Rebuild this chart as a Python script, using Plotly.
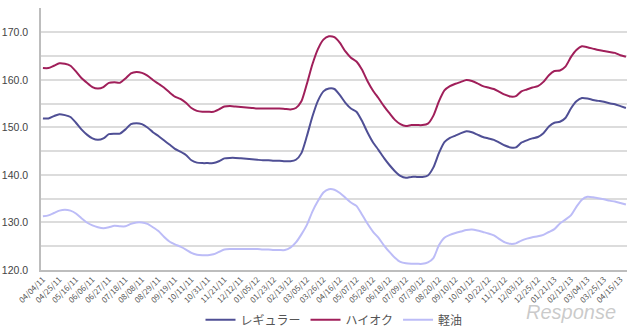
import plotly.graph_objects as go

# Weekly retail fuel prices (yen / litre), one point per survey week
regular = [
    151.9, 151.9, 152.4, 152.8, 152.6, 152.2, 151.0, 149.6, 148.5, 147.7,
    147.4, 147.7, 148.6, 148.7, 148.7, 149.6, 150.7, 150.9, 150.7, 150.0,
    149.0, 148.2, 147.3, 146.4, 145.5, 144.9, 144.2, 143.1, 142.6, 142.5,
    142.5, 142.5, 142.9, 143.5, 143.6, 143.6, 143.5, 143.4, 143.3, 143.2,
    143.1, 143.1, 143.0, 143.0, 142.9, 142.9, 143.2, 144.6, 148.2, 152.3,
    155.6, 157.6, 158.2, 158.1, 156.8, 155.2, 154.0, 153.3, 151.4, 149.0,
    146.9, 145.3, 143.6, 142.1, 140.8, 139.8, 139.4, 139.6, 139.6, 139.6,
    139.9, 141.6, 144.6, 146.9, 147.8, 148.3, 148.8, 149.2, 149.0, 148.5,
    148.0, 147.7, 147.4, 146.8, 146.2, 145.8, 145.8, 146.8, 147.3, 147.7,
    148.0, 148.8, 150.2, 151.0, 151.2, 152.0, 154.0, 155.5, 156.2, 156.1,
    155.8, 155.6, 155.4, 155.1, 154.9, 154.5, 154.1,
]
high_octane = [
    162.5, 162.5, 163.0, 163.5, 163.4, 163.0, 161.8, 160.4, 159.4, 158.5,
    158.2, 158.5, 159.4, 159.5, 159.4, 160.3, 161.4, 161.7, 161.5, 160.9,
    160.0, 159.2, 158.4, 157.4, 156.5, 156.0, 155.2, 154.1, 153.5, 153.3,
    153.3, 153.3, 153.8, 154.4, 154.5, 154.4, 154.3, 154.2, 154.1, 154.0,
    154.0, 154.0, 154.0, 154.0, 153.9, 153.8, 154.1, 155.5, 159.2, 163.3,
    166.5, 168.5, 169.2, 169.0, 167.8, 166.0, 164.7, 163.9, 162.2, 159.8,
    157.8, 156.2, 154.5, 153.0, 151.6, 150.7, 150.3, 150.5, 150.5, 150.5,
    150.8, 152.5, 155.5, 157.8, 158.7, 159.2, 159.6, 160.0, 159.8, 159.3,
    158.7, 158.4, 158.1, 157.5, 156.9, 156.5, 156.6, 157.6, 158.0, 158.4,
    158.7, 159.6, 161.0, 161.9, 162.0, 162.8, 164.8, 166.3, 167.1, 166.9,
    166.6, 166.3, 166.1, 165.9, 165.7, 165.2, 164.9,
]
diesel = [
    131.3, 131.5, 132.0, 132.5, 132.7, 132.5, 131.9, 130.9, 130.0, 129.4,
    129.0, 128.8, 129.0, 129.3, 129.2, 129.2, 129.7, 130.0, 130.0, 129.7,
    129.0, 128.2, 127.0, 126.0, 125.4, 124.9, 124.3, 123.6, 123.2, 123.1,
    123.1, 123.3, 123.8, 124.3, 124.4, 124.4, 124.4, 124.4, 124.4, 124.4,
    124.3, 124.3, 124.2, 124.2, 124.2, 124.7, 125.8, 127.5, 129.5, 132.3,
    134.5, 136.3, 137.0, 136.9, 136.2, 135.2, 134.2, 133.5, 131.7, 129.8,
    128.1, 126.8, 125.2, 123.8, 122.6, 121.7, 121.4, 121.3, 121.3, 121.3,
    121.6, 122.5, 125.2, 126.8, 127.4, 127.8, 128.1, 128.4, 128.5, 128.3,
    128.0, 127.7, 127.3, 126.5, 125.8, 125.5, 125.6, 126.2, 126.6, 126.9,
    127.1, 127.4, 128.0, 128.6, 129.8, 130.6, 131.5, 133.3, 134.8, 135.4,
    135.3, 135.1, 134.9, 134.6, 134.4, 134.1, 133.8,
]

# Every third survey week is labelled on the x axis
tick_labels = [
    "04/04/11", "04/25/11", "05/16/11", "06/06/11", "06/27/11", "07/18/11",
    "08/08/11", "08/29/11", "09/19/11", "10/11/11", "10/31/11", "11/21/11",
    "12/12/11", "01/05/12", "01/23/12", "02/13/12", "03/05/12", "03/26/12",
    "04/16/12", "05/07/12", "05/28/12", "06/18/12", "07/09/12", "07/30/12",
    "08/20/12", "09/10/12", "10/01/12", "10/22/12", "11/12/12", "12/03/12",
    "12/25/12", "01/21/13", "02/12/13", "03/04/13", "03/25/13", "04/15/13",
]
series_names = ["レギュラー", "ハイオク", "軽油"]
series_colors = ["#4f4f95", "#a01f5a", "#bcbcf7"]

weeks = list(range(len(regular)))
tick_step = 3
tick_vals = [i * tick_step for i in range(len(tick_labels))]

FONT = "Noto Sans CJK JP, Liberation Sans, sans-serif"

fig = go.Figure()
for name, values, color in zip(series_names, [regular, high_octane, diesel], series_colors):
    fig.add_trace(go.Scatter(
        x=weeks, y=values, name=name, mode="lines",
        line=dict(color=color, width=2, shape="spline", smoothing=0.6),
    ))

fig.update_layout(
    width=640, height=328,
    margin=dict(l=41, r=13, t=8, b=58, autoexpand=False),
    paper_bgcolor="white", plot_bgcolor="white",
    font=dict(family=FONT, color="#444444"),
    showlegend=True,
    legend=dict(
        orientation="h", x=0.5, xanchor="center", y=-0.135, yanchor="top",
        font=dict(size=12, color="#555555"), itemwidth=30,
        tracegroupgap=0, bgcolor="rgba(0,0,0,0)",
    ),
    xaxis=dict(
        range=[-0.35, 106.2],
        tickmode="array", tickvals=tick_vals, ticktext=tick_labels,
        tickangle=-45, tickfont=dict(size=8, color="#555555"),
        showgrid=False, zeroline=False,
        showline=True, linecolor="#bdbdbd", linewidth=1.5,
        ticks="", automargin=False,
    ),
    yaxis=dict(
        range=[120, 175.15], tick0=120, dtick=10, tickformat=".1f",
        tickfont=dict(size=10.5, color="#444444", family="Liberation Sans, sans-serif"),
        showgrid=True, gridcolor="#dcdcdc", gridwidth=1.5,
        minor=dict(tick0=120, dtick=5, showgrid=True, gridcolor="#dcdcdc", gridwidth=1.5),
        zeroline=False,
        showline=True, linecolor="#bdbdbd", linewidth=1.5,
        ticks="", ticklabelstandoff=9, automargin=False,
    ),
    annotations=[dict(
        text="<i>Response</i>", xref="paper", yref="paper",
        x=0.985, y=-0.11, xanchor="right", yanchor="top", showarrow=False,
        font=dict(size=20, color="rgba(150,150,150,0.5)", family="Liberation Sans"),
    )],
)

fig.write_html("out.html")
